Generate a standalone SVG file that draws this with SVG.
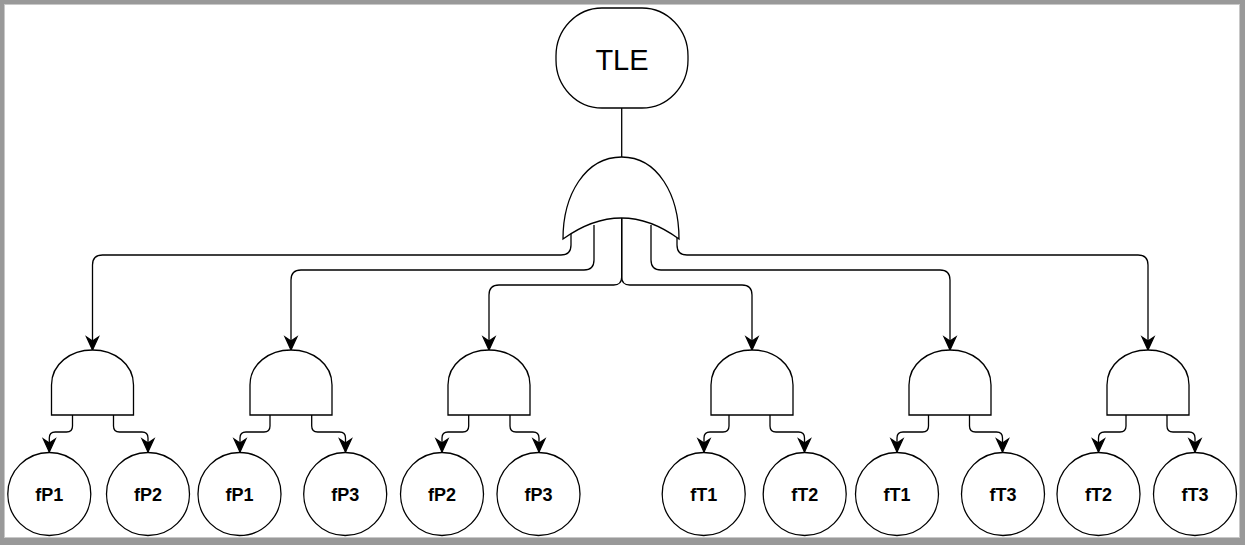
<svg xmlns="http://www.w3.org/2000/svg" width="1245" height="545" viewBox="0 0 1245 545">
<style>
.ln{fill:none;stroke:#000;stroke-width:1.3}
.shp{fill:#fff;stroke:#000;stroke-width:1.3}
.lbl{font-family:"Liberation Sans",Arial,sans-serif;font-weight:bold;font-size:18px;text-anchor:middle;fill:#000}
.top{font-family:"Liberation Sans",Arial,sans-serif;font-size:29px;text-anchor:middle;fill:#000}
</style>
<defs>
<marker id="arr" markerUnits="userSpaceOnUse" markerWidth="18" markerHeight="18" refX="14" refY="7" orient="auto" overflow="visible">
<path d="M14,7 L1,1 L5,7 L1,13 Z" fill="#000" stroke="#000" stroke-width="1.2" stroke-linejoin="miter"/>
</marker>
<path id="and" d="M-41,65 L-41,35 C-41,14 -22,0 0,0 C22,0 41,14 41,35 L41,65 Z"/>
</defs>
<rect x="0" y="0" width="1245" height="545" fill="#999"/>
<rect x="4.5" y="4.5" width="1235" height="533" fill="#fff" stroke="#c8c8c8" stroke-width="1"/>

<g id="connectors">
<path class="ln" d="M621.7,108 L621.7,160"/>
<path class="ln" d="M571,230 L571,245 Q571,255 561,255 L102.5,255 Q92.5,255 92.5,265 L92.5,350" marker-end="url(#arr)"/>
<path class="ln" d="M594,225 L594,260 Q594,270 584,270 L301,270 Q291,270 291,280 L291,350" marker-end="url(#arr)"/>
<path class="ln" d="M621.7,218 L621.7,277 Q621.7,285 613.7,285 L499,285 Q489,285 489,295 L489,350" marker-end="url(#arr)"/>
<path class="ln" d="M621.7,218 L621.7,277 Q621.7,285 629.7,285 L742,285 Q752,285 752,295 L752,350" marker-end="url(#arr)"/>
<path class="ln" d="M651,225 L651,260 Q651,270 661,270 L940,270 Q950,270 950,280 L950,350" marker-end="url(#arr)"/>
<path class="ln" d="M677,230 L677,245 Q677,255 687,255 L1138,255 Q1148,255 1148,265 L1148,350" marker-end="url(#arr)"/>

<path class="ln" d="M72.5,415 L72.5,426 Q72.5,432 66.5,432 L55.3,432 Q49.3,432 49.3,438 L49.3,452" marker-end="url(#arr)"/>
<path class="ln" d="M113.5,415 L113.5,426 Q113.5,432 119.5,432 L142,432 Q148,432 148,438 L148,452" marker-end="url(#arr)"/>
<path class="ln" d="M270,415 L270,426 Q270,432 264,432 L246,432 Q240,432 240,438 L240,452" marker-end="url(#arr)"/>
<path class="ln" d="M311.7,415 L311.7,426 Q311.7,432 317.7,432 L339.5,432 Q345.5,432 345.5,438 L345.5,452" marker-end="url(#arr)"/>
<path class="ln" d="M468.7,415 L468.7,426 Q468.7,432 462.7,432 L448,432 Q442,432 442,438 L442,452" marker-end="url(#arr)"/>
<path class="ln" d="M510,415 L510,426 Q510,432 516,432 L533,432 Q539,432 539,438 L539,452" marker-end="url(#arr)"/>
<path class="ln" d="M729,415 L729,426 Q729,432 723,432 L710,432 Q704,432 704,438 L704,452" marker-end="url(#arr)"/>
<path class="ln" d="M770,415 L770,426 Q770,432 776,432 L798.5,432 Q804.5,432 804.5,438 L804.5,452" marker-end="url(#arr)"/>
<path class="ln" d="M928.5,415 L928.5,426 Q928.5,432 922.5,432 L903,432 Q897,432 897,438 L897,452" marker-end="url(#arr)"/>
<path class="ln" d="M969.5,415 L969.5,426 Q969.5,432 975.5,432 L996.5,432 Q1002.5,432 1002.5,438 L1002.5,452" marker-end="url(#arr)"/>
<path class="ln" d="M1126,415 L1126,426 Q1126,432 1120,432 L1104.5,432 Q1098.5,432 1098.5,438 L1098.5,452" marker-end="url(#arr)"/>
<path class="ln" d="M1167,415 L1167,426 Q1167,432 1173,432 L1189,432 Q1195,432 1195,438 L1195,452" marker-end="url(#arr)"/>
</g>

<g id="tle">
<rect class="shp" x="556" y="8" width="132" height="100" rx="46" ry="48"/>
<text class="top" x="622" y="70">TLE</text>
</g>

<g id="or-gate">
<path class="shp" d="M563,239 C563,195 585,157 621.7,157 C658,157 679,195 679,239 Q621.7,197 563,239 Z"/>
</g>

<g id="and1"><use href="#and" class="shp" transform="translate(92.5,350)"/></g>
<g id="and2"><use href="#and" class="shp" transform="translate(291,350)"/></g>
<g id="and3"><use href="#and" class="shp" transform="translate(489,350)"/></g>
<g id="and4"><use href="#and" class="shp" transform="translate(752,350)"/></g>
<g id="and5"><use href="#and" class="shp" transform="translate(950,350)"/></g>
<g id="and6"><use href="#and" class="shp" transform="translate(1148,350)"/></g>

<g id="leaf1"><circle class="shp" cx="49.3" cy="494" r="41.5"/><text class="lbl" x="49.3" y="501">fP1</text></g>
<g id="leaf2"><circle class="shp" cx="148" cy="494" r="41.5"/><text class="lbl" x="148" y="501">fP2</text></g>
<g id="leaf3"><circle class="shp" cx="239.5" cy="494" r="41.5"/><text class="lbl" x="239.5" y="501">fP1</text></g>
<g id="leaf4"><circle class="shp" cx="345.2" cy="494" r="41.5"/><text class="lbl" x="345.2" y="501">fP3</text></g>
<g id="leaf5"><circle class="shp" cx="442" cy="494" r="41.5"/><text class="lbl" x="442" y="501">fP2</text></g>
<g id="leaf6"><circle class="shp" cx="538.5" cy="494" r="41.5"/><text class="lbl" x="538.5" y="501">fP3</text></g>
<g id="leaf7"><circle class="shp" cx="703.7" cy="494" r="41.5"/><text class="lbl" x="703.7" y="501">fT1</text></g>
<g id="leaf8"><circle class="shp" cx="804.7" cy="494" r="41.5"/><text class="lbl" x="804.7" y="501">fT2</text></g>
<g id="leaf9"><circle class="shp" cx="897" cy="494" r="41.5"/><text class="lbl" x="897" y="501">fT1</text></g>
<g id="leaf10"><circle class="shp" cx="1003" cy="494" r="41.5"/><text class="lbl" x="1003" y="501">fT3</text></g>
<g id="leaf11"><circle class="shp" cx="1098.5" cy="494" r="41.5"/><text class="lbl" x="1098.5" y="501">fT2</text></g>
<g id="leaf12"><circle class="shp" cx="1195" cy="494" r="41.5"/><text class="lbl" x="1195" y="501">fT3</text></g>
</svg>
